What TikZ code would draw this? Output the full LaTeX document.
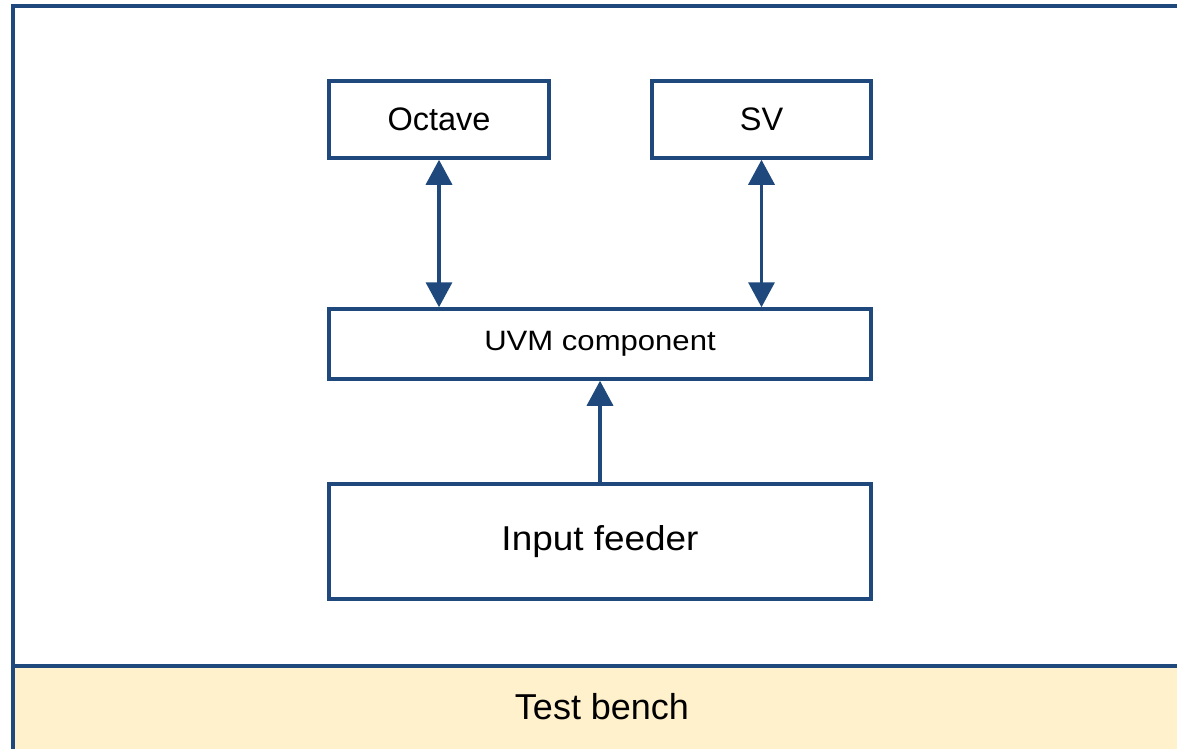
\documentclass[tikz,border=0pt]{standalone}
\usepackage{fontspec}
\setmainfont{Liberation Sans}
\usetikzlibrary{arrows.meta}
\definecolor{benchblue}{RGB}{31,73,125}
\definecolor{benchfill}{RGB}{255,241,204}
\newcommand{\fs}[1]{\fontsize{#1}{#1}\selectfont}

\begin{document}
\begin{tikzpicture}[x=1pt,y=-1pt,>={Triangle[width=26pt,length=25pt]},
    blk/.style={draw=benchblue,line width=3.5pt,inner sep=0pt},
    link/.style={benchblue,line width=3.5pt}]
      \useasboundingbox (0,0) rectangle (1177,748);
      \clip (0,0) rectangle (1177,748);
      % test bench frame
      \draw[benchblue,line width=4pt,fill=benchfill] (12.7,666) rectangle (1200,780);
      \draw[benchblue,line width=4pt] (12.7,6) rectangle (1200,666);
      \node (bench) at (602,707) {\fs{36}Test bench};
      % blocks
      \node[blk,minimum width=220pt,minimum height=77pt] (octave) at (439,119.5) {\fs{32.5}Octave};
      \node[blk,minimum width=219pt,minimum height=77pt] (sv) at (761.5,119.5) {\fs{32.5}SV};
      \node[blk,minimum width=542pt,minimum height=70pt] (uvm) at (600,344) {\fs{28}\scalebox{1.11}[1]{UVM component}};
      \node[blk,minimum width=542pt,minimum height=115pt] (feeder) at (600,541.5) {\fs{34.5}\scalebox{1.07}[1]{Input feeder}};
      % links
      \draw[link,<->] (octave.south) -- (octave.south |- uvm.north);
      \draw[link,<->] (sv.south) -- (sv.south |- uvm.north);
      \draw[link,->] (feeder) -- (uvm);
    \end{tikzpicture}
\end{document}
